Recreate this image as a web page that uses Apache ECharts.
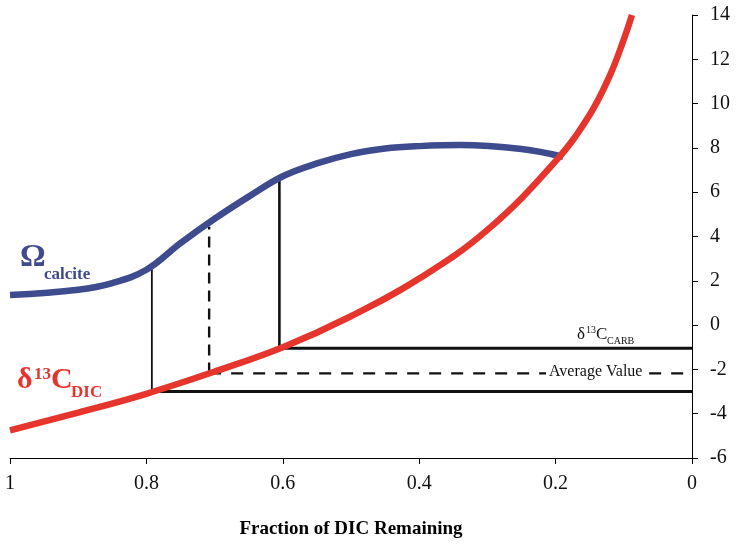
<!DOCTYPE html>
<html>
<head>
<meta charset="utf-8">
<script src="https://cdn.jsdelivr.net/npm/echarts@6/dist/echarts.min.js"></script>
<style>html,body{margin:0;padding:0;background:#fff}#c{width:739px;height:546px}</style>
</head>
<body>
<div id="c"></div>
<script>
// Fraction of DIC remaining (x) and values (y)
const dicF   = [1.0, 0.9, 0.8, 0.7, 0.6, 0.5, 0.4, 0.3, 0.2, 0.15, 0.12, 0.1, 0.088];
const dicVal = [-4.75, -3.95, -3.1, -2.1, -1.0, 0.4, 2.1, 4.3, 7.4, 9.5, 11.3, 12.9, 14.0];

const omegaF   = [1.0, 0.9, 0.85, 0.8, 0.75, 0.7, 0.65, 0.6, 0.55, 0.5, 0.45, 0.4, 0.34, 0.25, 0.189];
const omegaVal = [1.36, 1.6, 1.9, 2.5, 3.7, 4.8, 5.8, 6.72, 7.3, 7.72, 7.97, 8.08, 8.13, 7.95, 7.6];

// vertical connectors and horizontal carbonate levels
const dropF    = [0.792, 0.708, 0.605];
const dropLow  = [-3.0, -2.18, -1.05];
const dropHigh = [2.64, 4.44, 6.7];

const xTicks = [1, 0.8, 0.6, 0.4, 0.2, 0];
const yTicks = [14, 12, 10, 8, 6, 4, 2, 0, -2, -4, -6];

const RED = '#e5352c';
const BLUE = '#3f4b8f';
const FONT = '"Liberation Serif", "DejaVu Serif", serif';

const pairs = (xs, ys) => xs.map((x, i) => [x, ys[i]]);

const styles = [
  {w: 1.8, t: 'solid'},
  {w: 2.4, t: [11, 7]},
  {w: 2.6, t: 'solid'}
];
const hStyles = [
  {w: 3, t: 'solid'},
  {w: 2.4, t: [12, 10]},
  {w: 3, t: 'solid'}
];

const series = [];
dropF.forEach((f, i) => {
  series.push({
    type: 'line', silent: true, symbol: 'none', z: 3,
    lineStyle: {color: '#111', width: styles[i].w, type: styles[i].t},
    data: [[f, dropLow[i]], [f, dropHigh[i]]]
  });
  series.push({
    type: 'line', silent: true, symbol: 'none', z: 3,
    lineStyle: {color: '#111', width: hStyles[i].w, type: hStyles[i].t},
    data: [[f, dropLow[i]], [0, dropLow[i]]]
  });
});
series.push({
  type: 'line', smooth: 0.4, symbol: 'none', z: 5,
  lineStyle: {color: BLUE, width: 6.5},
  data: pairs(omegaF, omegaVal)
});
series.push({
  type: 'line', smooth: 0.4, symbol: 'none', z: 6,
  lineStyle: {color: RED, width: 6.5},
  data: pairs(dicF, dicVal)
});

const chart = echarts.init(document.getElementById('c'), null, {renderer: 'canvas'});
chart.setOption({
  animation: false,
  backgroundColor: '#fff',
  grid: {left: 10, right: 47, top: 15, bottom: 88, containLabel: false},
  xAxis: {
    type: 'value', min: 0, max: 1, interval: 0.2, inverse: true,
    name: 'Fraction of DIC Remaining', nameLocation: 'middle', nameGap: 62,
    nameTextStyle: {fontFamily: FONT, fontWeight: 'bold', fontSize: 19, color: '#000'},
    axisLine: {show: true, onZero: false, lineStyle: {color: '#000', width: 1}},
    axisTick: {show: true, length: 6, lineStyle: {color: '#000'}},
    splitLine: {show: false},
    axisLabel: {
      fontFamily: FONT, fontSize: 20, color: '#111', margin: 16,
      formatter: v => { const t = xTicks.find(k => Math.abs(k - v) < 1e-9); return t === undefined ? '' : String(t); }
    }
  },
  yAxis: {
    type: 'value', position: 'right', min: -6, max: 14, interval: 2,
    axisLine: {show: true, lineStyle: {color: '#000', width: 1}},
    axisTick: {show: true, inside: false, length: 6, lineStyle: {color: '#000'}},
    splitLine: {show: false},
    axisLabel: {
      fontFamily: FONT, fontSize: 20, color: '#111', margin: 18,
      formatter: v => { const t = yTicks.find(k => Math.abs(k - v) < 1e-9); return t === undefined ? '' : String(t); }
    }
  },
  series: series,
  graphic: [
    {type: 'text', left: 20, top: 242, z: 10, style: {text: 'Ω', fontFamily: FONT, fontWeight: 'bold', fontSize: 32, fill: BLUE}},
    {type: 'text', left: 44, top: 266, z: 10, style: {text: 'calcite', fontFamily: FONT, fontWeight: 'bold', fontSize: 17, fill: BLUE}},
    {type: 'text', left: 17, top: 365, z: 10, style: {text: 'δ', fontFamily: FONT, fontWeight: 'bold', fontSize: 30, fill: RED}},
    {type: 'text', left: 34, top: 366, z: 10, style: {text: '13', fontFamily: FONT, fontWeight: 'bold', fontSize: 17, fill: RED}},
    {type: 'text', left: 51, top: 365, z: 10, style: {text: 'C', fontFamily: FONT, fontWeight: 'bold', fontSize: 30, fill: RED}},
    {type: 'text', left: 71, top: 384, z: 10, style: {text: 'DIC', fontFamily: FONT, fontWeight: 'bold', fontSize: 17, fill: RED}},
    {type: 'text', left: 577, top: 326, z: 10, style: {text: 'δ', fontFamily: FONT, fontSize: 17, fill: '#111'}},
    {type: 'text', left: 586, top: 325, z: 10, style: {text: '13', fontFamily: FONT, fontSize: 10, fill: '#111'}},
    {type: 'text', left: 596, top: 326, z: 10, style: {text: 'C', fontFamily: FONT, fontSize: 17, fill: '#111'}},
    {type: 'text', left: 607, top: 336, z: 10, style: {text: 'CARB', fontFamily: FONT, fontSize: 10, fill: '#111'}},
    {type: 'text', left: 546, top: 364, z: 10, style: {text: 'Average Value', fontFamily: FONT, fontSize: 16, fill: '#111', backgroundColor: '#fff', padding: [0, 3, 0, 3]}}
  ]
});
</script>
</body>
</html>
